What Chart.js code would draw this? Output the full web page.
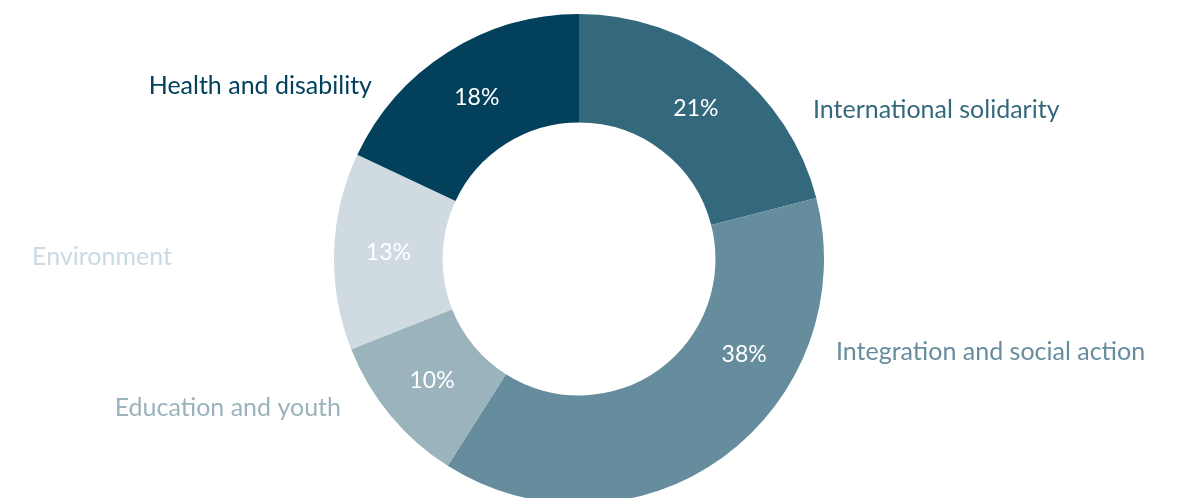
<!DOCTYPE html>
<html>
<head>
<meta charset="utf-8">
<script src="https://cdn.jsdelivr.net/npm/chart.js@4"></script>
<style>
  html, body { margin: 0; padding: 0; background: #fff; overflow: hidden; }
  #wrap { position: relative; width: 1179px; height: 518px; }
</style>
</head>
<body>
<div id="wrap"><canvas id="donut"></canvas></div>
<script>
// Données du graphique
const categories = ['International solidarity', 'Integration and social action', 'Education and youth', 'Environment', 'Health and disability'];
const pourcentages = [21, 38, 10, 13, 18];
const couleurs = ['#33687d', '#668d9e', '#9ab3bd', '#cfdae1', '#02405b'];
const couleursTexte = ['#33687d', '#668d9e', '#9ab3bd', '#c9dae3', '#02405b'];

// Placement des étiquettes extérieures (décalage par rapport au centre, alignement)
const posEtiquettes = [
  { dx: 234, dy: -149, align: 'left' },
  { dx: 257, dy: 93, align: 'left' },
  { dx: -238, dy: 149, align: 'right' },
  { dx: -407, dy: -2, align: 'right' },
  { dx: -207, dy: -173, align: 'right' }
];
// Décalage angulaire du pourcentage dans la part (degrés)
const decalageAngle = [0, -24, 0, 0, 0];

const police = '25px Lato, "Open Sans", sans-serif';
const policePct = '23px Lato, "Open Sans", sans-serif';

// Plugin pour dessiner les étiquettes
const etiquettes = {
  id: 'etiquettes',
  afterDatasetsDraw(chart) {
    const ctx = chart.ctx;
    const meta = chart.getDatasetMeta(0);
    ctx.save();
    ctx.textBaseline = 'middle';
    meta.data.forEach((arc, i) => {
      const p = arc.getProps(['x', 'y', 'startAngle', 'endAngle', 'innerRadius', 'outerRadius'], true);
      const milieu = (p.startAngle + p.endAngle) / 2 + decalageAngle[i] * Math.PI / 180;
      const r = (p.innerRadius + p.outerRadius) / 2;
      ctx.font = policePct;
      ctx.fillStyle = '#ffffff';
      ctx.textAlign = 'center';
      ctx.fillText(pourcentages[i] + '%', p.x + Math.cos(milieu) * r, p.y + Math.sin(milieu) * r);

      const pos = posEtiquettes[i];
      ctx.font = police;
      ctx.fillStyle = couleursTexte[i];
      ctx.textAlign = pos.align;
      ctx.fillText(categories[i], p.x + pos.dx, p.y + pos.dy);
    });
    ctx.restore();
  }
};

const canvas = document.getElementById('donut');
new Chart(canvas.getContext('2d'), {
  type: 'doughnut',
  data: {
    labels: categories,
    datasets: [{
      data: pourcentages,
      backgroundColor: couleurs,
      borderWidth: 0
    }]
  },
  options: {
    responsive: true,
    maintainAspectRatio: false,
    animation: false,
    radius: 245,
    cutout: '55.7%',
    layout: { padding: { left: 0, right: 21, top: 0, bottom: 0 } },
    plugins: {
      legend: { display: false },
      tooltip: { enabled: false }
    }
  },
  plugins: [etiquettes]
});
</script>
</body>
</html>
